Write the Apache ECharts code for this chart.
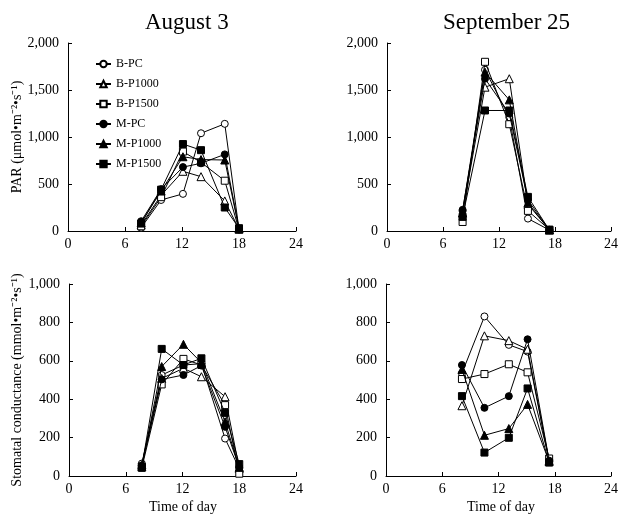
<!DOCTYPE html>
<html>
<head>
<meta charset="utf-8">
<script src="https://cdn.jsdelivr.net/npm/echarts@6/dist/echarts.min.js"></script>
<style>
body { margin: 0; background: #fff; }
#chart { width: 621px; height: 516px; }
</style>
</head>
<body>
<div id="chart"></div>
<script>
// 时间（小时）
var timeAug = [7.7, 9.8, 12.1, 14.0, 16.5, 18.0];
var timeSep = [8.1, 10.5, 13.1, 15.1, 17.4];
var names = ['B-PC', 'B-P1000', 'B-P1500', 'M-PC', 'M-P1000', 'M-P1500'];

// PAR August 3
var parAug = [
	[35, 330, 395, 1040, 1140, 15],
	[65, 380, 635, 578, 320, 20],
	[50, 360, 845, 730, 535, 15],
	[104, 445, 680, 720, 815, 25],
	[88, 425, 790, 760, 755, 25],
	[80, 440, 925, 860, 250, 30]
];
// PAR September 25
var parSep = [
	[213, 1715, 1210, 132, 10],
	[195, 1530, 1620, 285, 12],
	[96, 1800, 1136, 214, 15],
	[225, 1620, 1250, 330, 10],
	[190, 1690, 1395, 300, 10],
	[150, 1282, 1282, 363, 10]
];
// Stomatal conductance August 3
var gsAug = [
	[65, 526, 578, 585, 195, 38],
	[60, 508, 561, 517, 413, 40],
	[42, 477, 610, 578, 369, 12],
	[55, 503, 526, 575, 256, 45],
	[50, 570, 686, 590, 282, 45],
	[48, 662, 578, 613, 329, 62]
];
// Stomatal conductance September 25
var gsSep = [
	[535, 831, 683, 648, 75],
	[366, 730, 705, 660, 80],
	[505, 531, 582, 540, 91],
	[578, 355, 416, 712, 80],
	[555, 212, 247, 373, 75],
	[416, 122, 199, 456, 70]
];

var FONT = 'Liberation Serif';
var symbols = ['circle', 'triangle', 'rect', 'circle', 'triangle', 'rect'];
var sizes = [7, 8, 7, 7, 8, 7];
var fills = ['#fff', '#fff', '#fff', '#000', '#000', '#000'];

var myChart = echarts.init(document.getElementById('chart'));

function makeX(idx) {
	return {
		type : 'value',
		gridIndex : idx,
		min : 0,
		max : 24,
		interval : 6,
		axisLine : { lineStyle : { color : '#000', width : 1 } },
		axisTick : { inside : true, length : 4, lineStyle : { color : '#000' } },
		axisLabel : { color : '#000', fontFamily : FONT, fontSize : 14, margin : 6 },
		splitLine : { show : false }
	};
}

function makeY(idx, max, interval) {
	return {
		type : 'value',
		gridIndex : idx,
		min : 0,
		max : max,
		interval : interval,
		axisLine : { show : true, lineStyle : { color : '#000', width : 1 } },
		axisTick : { show : true, inside : true, length : 4, lineStyle : { color : '#000' } },
		axisLabel : {
			color : '#000', fontFamily : FONT, fontSize : 14, margin : 9,
			formatter : function(v) { return v.toLocaleString('en-US'); }
		},
		splitLine : { show : false }
	};
}

var series = [];
function addPanel(idx, times, values) {
	for (var i = 0; i < names.length; i++) {
		var pts = [];
		for (var j = 0; j < times.length; j++) {
			pts.push([times[j], values[i][j]]);
		}
		series.push({
			name : names[i],
			type : 'line',
			xAxisIndex : idx,
			yAxisIndex : idx,
			data : pts,
			symbol : symbols[i],
			symbolSize : sizes[i],
			showAllSymbol : true,
			lineStyle : { color : '#000', width : 1 },
			itemStyle : { color : fills[i], borderColor : '#000', borderWidth : 1 },
			emphasis : { disabled : true },
			z : 2 + i
		});
	}
}
addPanel(0, timeAug, parAug);
addPanel(1, timeSep, parSep);
addPanel(2, timeAug, gsAug);
addPanel(3, timeSep, gsSep);

option = {
	animation : false,
	backgroundColor : '#fff',
	title : [
		{ text : 'August 3', left : 140, top : 6, textStyle : { fontFamily : FONT, fontSize : 23, fontWeight : 'normal', color : '#000' } },
		{ text : 'September 25', left : 438, top : 6, textStyle : { fontFamily : FONT, fontSize : 23, fontWeight : 'normal', color : '#000' } }
	],
	legend : {
		orient : 'vertical',
		left : 90,
		top : 53,
		itemWidth : 15,
		itemHeight : 8,
		itemGap : 8,
		data : names,
		textStyle : { fontFamily : FONT, fontSize : 12, color : '#000' },
		selectedMode : false
	},
	grid : [
		{ left : 68, top : 43, width : 228, height : 188 },
		{ left : 387, top : 43, width : 228, height : 188 },
		{ left : 69, top : 284, width : 227, height : 192 },
		{ left : 386, top : 284, width : 229, height : 192 }
	],
	xAxis : [makeX(0), makeX(1), makeX(2), makeX(3)],
	yAxis : [makeY(0, 2000, 500), makeY(1, 2000, 500), makeY(2, 1000, 200), makeY(3, 1000, 200)],
	graphic : [
		{ type : 'text', x : 17, y : 137, rotation : Math.PI / 2,
			style : { text : 'PAR (\u03bcmol\u2022m\u207b\u00b2\u2022s\u207b\u00b9)', fontFamily : FONT, fontSize : 14, fill : '#000',
				textAlign : 'center', textVerticalAlign : 'middle', align : 'center', verticalAlign : 'middle' } },
		{ type : 'text', x : 17, y : 380, rotation : Math.PI / 2,
			style : { text : 'Stomatal conductance (mmol\u2022m\u207b\u00b2\u2022s\u207b\u00b9)', fontFamily : FONT, fontSize : 14, fill : '#000',
				textAlign : 'center', textVerticalAlign : 'middle', align : 'center', verticalAlign : 'middle' } },
		{ type : 'text', x : 183, y : 507,
			style : { text : 'Time of day', fontFamily : FONT, fontSize : 14, fill : '#000',
				textAlign : 'center', textVerticalAlign : 'middle', align : 'center', verticalAlign : 'middle' } },
		{ type : 'text', x : 501, y : 507,
			style : { text : 'Time of day', fontFamily : FONT, fontSize : 14, fill : '#000',
				textAlign : 'center', textVerticalAlign : 'middle', align : 'center', verticalAlign : 'middle' } }
	],
	series : series
};
myChart.setOption(option);
</script>
</body>
</html>
